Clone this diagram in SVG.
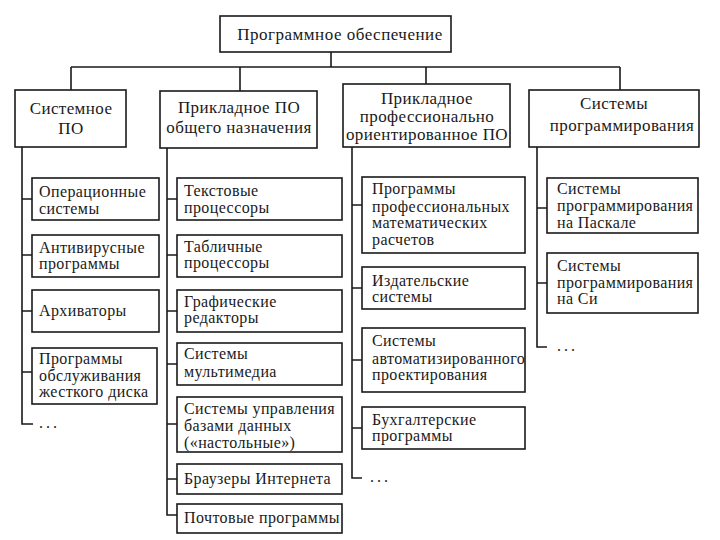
<svg xmlns="http://www.w3.org/2000/svg" width="720" height="540" viewBox="0 0 720 540">
<style>
.b{fill:#fff;stroke:#1a1a1a;stroke-width:1.6}
.l{fill:none;stroke:#1a1a1a;stroke-width:1.6}
.c{text-anchor:middle;font-size:17px}
.h{font-size:17px;letter-spacing:0.5px}
</style>
<rect width="720" height="540" fill="#fff"/>
<g id="connectors">
<path class="l" d="M331 52V67M71 67H620M71 67V90M240 67V91M426 67V84M620 67V90"/>
<path class="l" d="M22 147V424H33M22 199H32M22 255H32M22 311H32M22 372H32"/>
<path class="l" d="M167 148V515H177M167 199H177M167 255H177M167 311H177M167 364H177M167 424H177M167 479H177"/>
<path class="l" d="M352 147V478H362M352 205H362M352 288H362M352 360H362M352 428H362"/>
<path class="l" d="M537 147V347H547M537 208H547M537 283H547"/>
</g>
<g font-family="Liberation Serif, Noto Serif, DejaVu Serif, serif" font-size="16" fill="#1a1a1a" letter-spacing="0.4">
<g id="root"><rect class="b" x="220" y="16" width="231" height="36"/><text class="c h" x="340" y="40">Программное обеспечение</text></g>
<g id="sys"><rect class="b" x="15" y="90" width="111" height="57"/><text class="c" x="71" y="114">Системное</text><text class="c" x="71" y="134">ПО</text></g>
<g id="gen"><rect class="b" x="160" y="91" width="157" height="57"/><text class="c" x="239" y="113">Прикладное ПО</text><text class="c" x="239" y="133">общего назначения</text></g>
<g id="prof"><rect class="b" x="343" y="84" width="167" height="63"/><text class="c" x="427" y="104">Прикладное</text><text class="c" x="427" y="122">профессионально</text><text class="c" x="427" y="140">ориентированное ПО</text></g>
<g id="prog"><rect class="b" x="529" y="90" width="170" height="57"/><text class="c" x="614" y="109">Системы</text><text class="c" x="622" y="131">программирования</text></g>

<g id="os"><rect class="b" x="32" y="178" width="127" height="42"/><text x="39" y="197">Операционные</text><text x="39" y="214">системы</text></g>
<g id="av"><rect class="b" x="32" y="235" width="127" height="42"/><text x="39" y="253">Антивирусные</text><text x="39" y="269">программы</text></g>
<g id="arch"><rect class="b" x="32" y="290" width="127" height="42"/><text x="39" y="316">Архиваторы</text></g>
<g id="hdd"><rect class="b" x="32" y="348" width="125" height="56"/><text x="39" y="364">Программы</text><text x="39" y="381">обслуживания</text><text x="39" y="397">жесткого диска</text></g>
<text x="39" y="428" letter-spacing="3">...</text>

<g id="txt"><rect class="b" x="177" y="178" width="165" height="42"/><text x="184" y="196">Текстовые</text><text x="184" y="213">процессоры</text></g>
<g id="tab"><rect class="b" x="177" y="235" width="165" height="42"/><text x="184" y="252">Табличные</text><text x="184" y="268">процессоры</text></g>
<g id="gr"><rect class="b" x="177" y="290" width="165" height="42"/><text x="184" y="307">Графические</text><text x="184" y="323">редакторы</text></g>
<g id="mm"><rect class="b" x="177" y="343" width="165" height="42"/><text x="184" y="359">Системы</text><text x="184" y="377">мультимедиа</text></g>
<g id="db"><rect class="b" x="177" y="397" width="165" height="55"/><text x="184" y="414">Системы управления</text><text x="184" y="431">базами данных</text><text x="184" y="448">(«настольные»)</text></g>
<g id="br"><rect class="b" x="177" y="464" width="165" height="30"/><text x="184" y="484">Браузеры Интернета</text></g>
<g id="mail"><rect class="b" x="177" y="504" width="165" height="29"/><text x="184" y="523">Почтовые программы</text></g>

<g id="math"><rect class="b" x="362" y="177" width="163" height="76"/><text x="372" y="194">Программы</text><text x="372" y="212">профессиональных</text><text x="372" y="228">математических</text><text x="372" y="245">расчетов</text></g>
<g id="pub"><rect class="b" x="362" y="267" width="163" height="42"/><text x="372" y="286">Издательские</text><text x="372" y="302">системы</text></g>
<g id="cad"><rect class="b" x="362" y="328" width="163" height="64"/><text x="372" y="346">Системы</text><text x="372" y="364">автоматизированного</text><text x="372" y="380">проектирования</text></g>
<g id="acc"><rect class="b" x="362" y="407" width="163" height="42"/><text x="372" y="425">Бухгалтерские</text><text x="372" y="441">программы</text></g>
<text x="370" y="482" letter-spacing="3">...</text>

<g id="pas"><rect class="b" x="547" y="178" width="151" height="55"/><text x="557" y="194">Системы</text><text x="557" y="211">программирования</text><text x="557" y="228">на Паскале</text></g>
<g id="c"><rect class="b" x="547" y="253" width="151" height="60"/><text x="557" y="271">Системы</text><text x="557" y="288">программирования</text><text x="557" y="304">на Си</text></g>
<text x="557" y="351" letter-spacing="3">...</text>
</g>
</svg>
